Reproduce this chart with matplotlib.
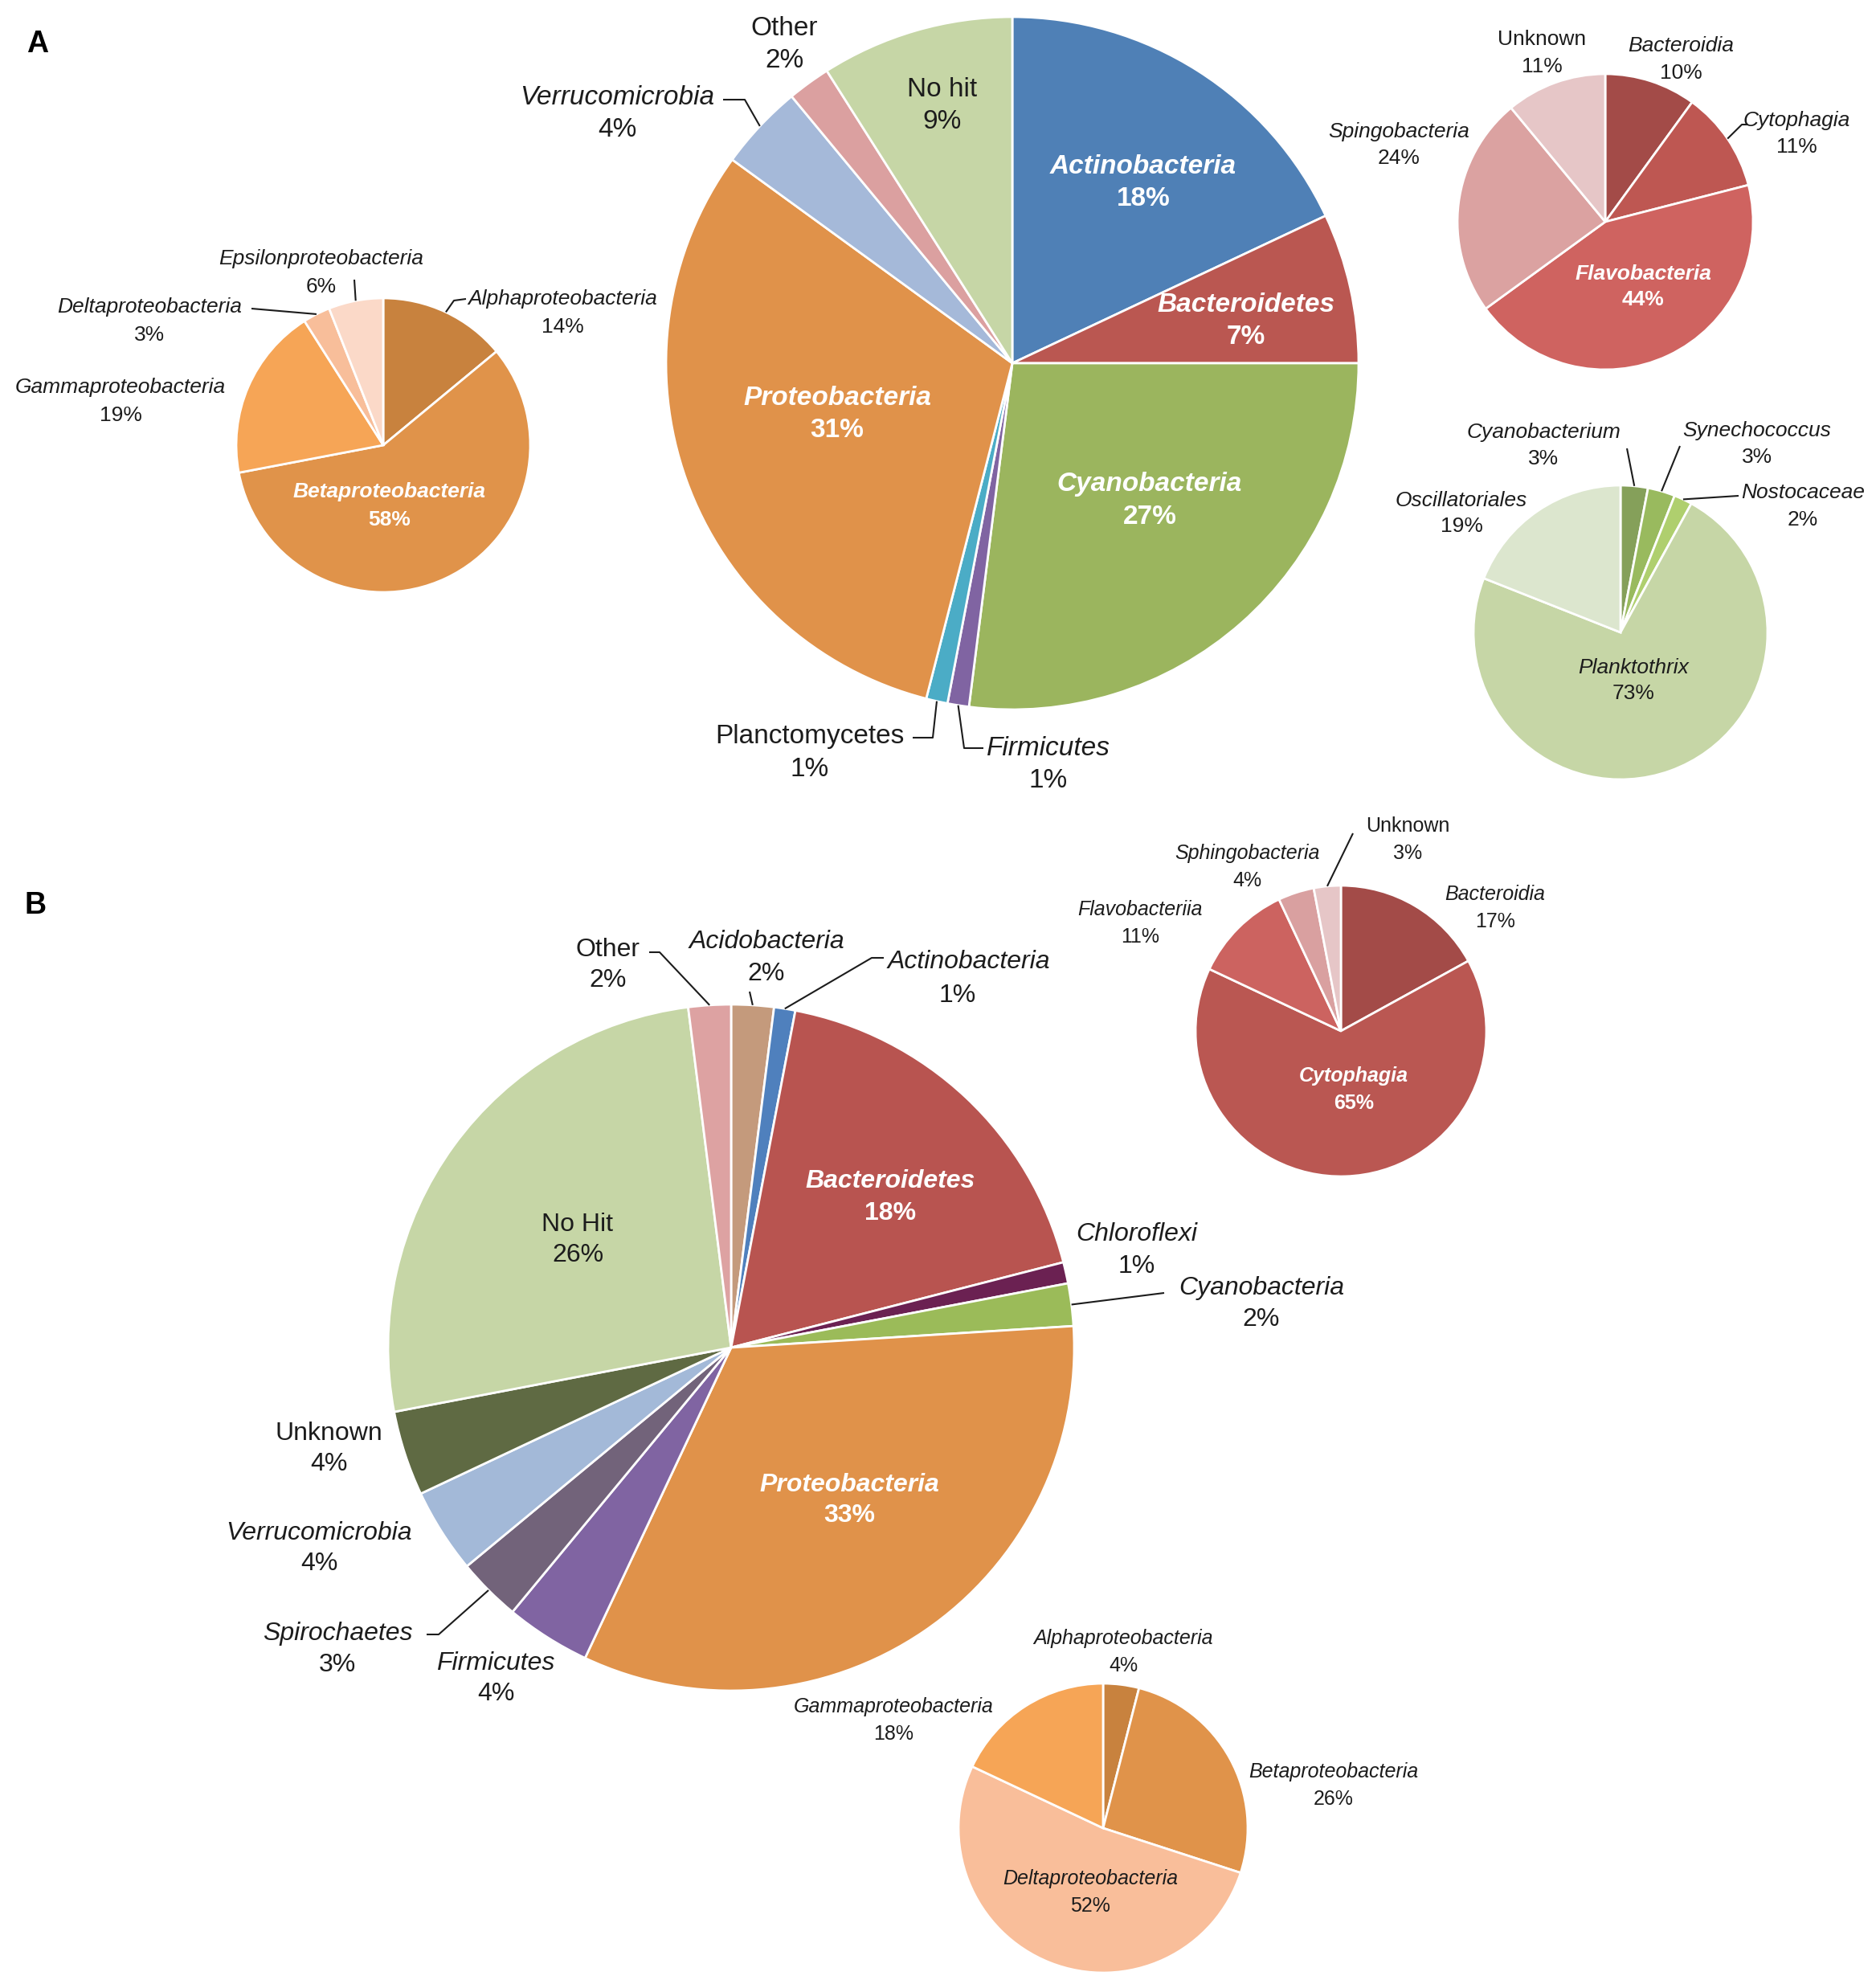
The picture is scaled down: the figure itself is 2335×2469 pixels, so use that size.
import matplotlib
matplotlib.use("Agg")  # headless
import matplotlib.pyplot as plt
import numpy as np

W, H = 2335, 2469  # canvas in pixels (dpi 100)

plt.rcParams["font.family"] = ["Liberation Sans", "DejaVu Sans"]

# ---- data -------------------------------------------------------------------
# Panel A, phylum level
A_PHYLUM = ["Actinobacteria", "Bacteroidetes", "Cyanobacteria", "Firmicutes",
            "Planctomycetes", "Proteobacteria", "Verrucomicrobia", "Other", "No hit"]
A_PHYLUM_PCT = [18, 7, 27, 1, 1, 31, 4, 2, 9]
A_PHYLUM_COLORS = ["#4F80B6", "#BA5751", "#9BB55E", "#8064A2", "#4BACC6",
                   "#E0924A", "#A5B9D9", "#DBA0A0", "#C6D6A6"]

# Panel A, Proteobacteria classes
A_PROTEO = ["Alphaproteobacteria", "Betaproteobacteria", "Gammaproteobacteria",
            "Deltaproteobacteria", "Epsilonproteobacteria"]
A_PROTEO_PCT = [14, 58, 19, 3, 6]
A_PROTEO_COLORS = ["#C8823E", "#E0934A", "#F6A556", "#F8BE9A", "#FBD9C8"]

# Panel A, Bacteroidetes classes
A_BACT = ["Bacteroidia", "Cytophagia", "Flavobacteria", "Spingobacteria", "Unknown"]
A_BACT_PCT = [10, 11, 44, 24, 11]
A_BACT_COLORS = ["#A34B48", "#BE5752", "#CF6360", "#DBA2A1", "#E6C6C7"]

# Panel A, Cyanobacteria genera
A_CYANO = ["Cyanobacterium", "Synechococcus", "Nostocaceae", "Planktothrix",
           "Oscillatoriales"]
A_CYANO_PCT = [3, 3, 2, 73, 19]
A_CYANO_COLORS = ["#85A05A", "#99BA5E", "#AFCF6E", "#C6D6A6", "#DCE6CE"]

# Panel B, phylum level
B_PHYLUM = ["Acidobacteria", "Actinobacteria", "Bacteroidetes", "Chloroflexi",
            "Cyanobacteria", "Proteobacteria", "Firmicutes", "Spirochaetes",
            "Verrucomicrobia", "Unknown", "No Hit", "Other"]
B_PHYLUM_PCT = [2, 1, 18, 1, 2, 33, 4, 3, 4, 4, 26, 2]
B_PHYLUM_COLORS = ["#C49A7C", "#4F80BD", "#B85450", "#6B2152", "#9BBB59",
                   "#E0924A", "#8064A2", "#72637A", "#A3B9D8", "#5F6A43",
                   "#C6D6A6", "#DDA2A2"]

# Panel B, Bacteroidetes classes
B_BACT = ["Bacteroidia", "Cytophagia", "Flavobacteriia", "Sphingobacteria", "Unknown"]
B_BACT_PCT = [17, 65, 11, 4, 3]
B_BACT_COLORS = ["#A34B48", "#BA5752", "#CC6360", "#D9A0A0", "#E6C6C7"]

# Panel B, Proteobacteria classes
B_PROTEO = ["Alphaproteobacteria", "Betaproteobacteria", "Deltaproteobacteria",
            "Gammaproteobacteria"]
B_PROTEO_PCT = [4, 26, 52, 18]
B_PROTEO_COLORS = ["#C8823E", "#E0934A", "#F9BE9A", "#F6A556"]

# ---- layout (pixel coords, y measured from top) -----------------------------
PIES = [
    dict(names=A_PHYLUM, pct=A_PHYLUM_PCT, colors=A_PHYLUM_COLORS,
         center=(1260, 452), radius=431, size=24, gap=40,
         labels={"Actinobacteria": (1423, 228), "Bacteroidetes": (1551, 400),
                 "Cyanobacteria": (1431, 623), "Proteobacteria": (1042, 516),
                 "No hit": (1173, 131), "Other": (976, 55),
                 "Verrucomicrobia": (768, 142), "Planctomycetes": (1008, 937),
                 "Firmicutes": (1305, 951)},
         bold={"Actinobacteria", "Bacteroidetes", "Cyanobacteria", "Proteobacteria"},
         upright={"No hit", "Other", "Planctomycetes"},
         leaders={"Verrucomicrobia": [(900, 124), (927, 124)],
                  "Planctomycetes": [(1136, 918), (1161, 918)],
                  "Firmicutes": [(1224, 931), (1200, 931)]}),
    dict(names=A_PROTEO, pct=A_PROTEO_PCT, colors=A_PROTEO_COLORS,
         center=(477, 554), radius=183, size=19, gap=35,
         labels={"Alphaproteobacteria": (700, 390), "Betaproteobacteria": (485, 630),
                 "Gammaproteobacteria": (150, 500), "Deltaproteobacteria": (186, 399),
                 "Epsilonproteobacteria": (400, 339)},
         bold={"Betaproteobacteria"}, upright=set(),
         leaders={"Epsilonproteobacteria": [(441, 348)],
                  "Deltaproteobacteria": [(313, 384)],
                  "Alphaproteobacteria": [(580, 372), (565, 374)]}),
    dict(names=A_BACT, pct=A_BACT_PCT, colors=A_BACT_COLORS,
         center=(1998, 276), radius=184, size=19, gap=33,
         labels={"Unknown": (1919, 66), "Bacteroidia": (2092, 74),
                 "Cytophagia": (2236, 167), "Spingobacteria": (1741, 181),
                 "Flavobacteria": (2045, 357)},
         bold={"Flavobacteria"}, upright={"Unknown"},
         leaders={"Cytophagia": [(2175, 155), (2168, 155)]}),
    dict(names=A_CYANO, pct=A_CYANO_PCT, colors=A_CYANO_COLORS,
         center=(2017, 787), radius=183, size=19, gap=33,
         labels={"Cyanobacterium": (1921, 554), "Synechococcus": (2187, 553),
                 "Nostocaceae": (2244, 630), "Oscillatoriales": (1819, 639),
                 "Planktothrix": (2033, 847)},
         bold=set(), upright=set(),
         leaders={"Cyanobacterium": [(2025, 558)],
                  "Synechococcus": [(2091, 555)],
                  "Nostocaceae": [(2164, 617)]}),
    dict(names=B_PHYLUM, pct=B_PHYLUM_PCT, colors=B_PHYLUM_COLORS,
         center=(910, 1677), radius=427, size=23, gap=39,
         labels={"Other": (757, 1201), "Acidobacteria": (954, 1192),
                 "Actinobacteria": (1206, 1197, 1192, 1239),
                 "Bacteroidetes": (1108, 1490),
                 "Chloroflexi": (1415, 1556), "Cyanobacteria": (1570, 1623),
                 "Proteobacteria": (1057, 1867), "No Hit": (719, 1543),
                 "Unknown": (409, 1803), "Verrucomicrobia": (397, 1927),
                 "Spirochaetes": (420, 2053), "Firmicutes": (617, 2089)},
         bold={"Bacteroidetes", "Proteobacteria"}, upright={"Other", "No Hit", "Unknown"},
         leaders={"Other": [(808, 1185), (821, 1185)],
                  "Acidobacteria": [(933, 1234)],
                  "Actinobacteria": [(1100, 1192), (1085, 1192)],
                  "Cyanobacteria": [(1449, 1609)],
                  "Spirochaetes": [(531, 2034), (546, 2034)]}),
    dict(names=B_BACT, pct=B_BACT_PCT, colors=B_BACT_COLORS,
         center=(1669, 1283), radius=181, size=18, gap=34,
         labels={"Unknown": (1752, 1045), "Sphingobacteria": (1552, 1079),
                 "Flavobacteriia": (1419, 1149), "Bacteroidia": (1861, 1130),
                 "Cytophagia": (1685, 1356)},
         bold={"Cytophagia"}, upright={"Unknown"},
         leaders={"Unknown": [(1684, 1037)]}),
    dict(names=B_PROTEO, pct=B_PROTEO_PCT, colors=B_PROTEO_COLORS,
         center=(1373, 2275), radius=180, size=18, gap=34,
         labels={"Alphaproteobacteria": (1398, 2056), "Gammaproteobacteria": (1112, 2141),
                 "Betaproteobacteria": (1660, 2222), "Deltaproteobacteria": (1357, 2355)},
         bold=set(), upright=set(), leaders={}),
]

INK = "#1c1c1c"


def draw_pie(ax, spec):
    cx, cy = spec["center"]
    r = spec["radius"]
    cy = H - cy
    ax.pie(spec["pct"], colors=spec["colors"], startangle=90, counterclock=False,
           center=(cx, cy), radius=r, frame=True,
           wedgeprops=dict(edgecolor="white", linewidth=2))

    # mid angle of each wedge, for the leader lines
    cum = np.cumsum([0] + spec["pct"][:-1])
    mids = {n: np.deg2rad(90 - 3.6 * (c + v / 2))
            for n, c, v in zip(spec["names"], cum, spec["pct"])}

    fs = spec["size"]
    for name, val in zip(spec["names"], spec["pct"]):
        pos = spec["labels"][name]
        if len(pos) == 4:
            (nx, ny), (px, py) = pos[:2], pos[2:]
        else:
            nx = px = pos[0]
            ny, py = pos[1] - spec["gap"] / 2, pos[1] + spec["gap"] / 2
        if name in spec["bold"]:
            name_kw = dict(color="white", fontweight="bold", fontstyle="italic")
            pct_kw = dict(color="white", fontweight="bold")
        elif name in spec["upright"]:
            name_kw = pct_kw = dict(color=INK)
        else:
            name_kw = dict(color=INK, fontstyle="italic")
            pct_kw = dict(color=INK)
        ax.text(nx, H - ny, name, ha="center", va="center", fontsize=fs, **name_kw)
        ax.text(px, H - py, f"{val}%", ha="center", va="center", fontsize=fs, **pct_kw)

    for name, pts in spec["leaders"].items():
        a = mids[name]
        xs = [p[0] for p in pts] + [cx + r * np.cos(a)]
        ys = [H - p[1] for p in pts] + [cy + r * np.sin(a)]
        ax.plot(xs, ys, color=INK, lw=1.5, solid_capstyle="butt")


fig = plt.figure(figsize=(W / 100, H / 100), dpi=100)
ax = fig.add_axes([0, 0, 1, 1])
for spec in PIES:
    draw_pie(ax, spec)

ax.text(47, H - 55, "A", fontsize=27, fontweight="bold", ha="center", va="center")
ax.text(44, H - 1127, "B", fontsize=27, fontweight="bold", ha="center", va="center")

ax.set_xlim(0, W)
ax.set_ylim(0, H)
ax.set_aspect("equal")
ax.axis("off")
fig.savefig("out.png", dpi=100, facecolor="white")
